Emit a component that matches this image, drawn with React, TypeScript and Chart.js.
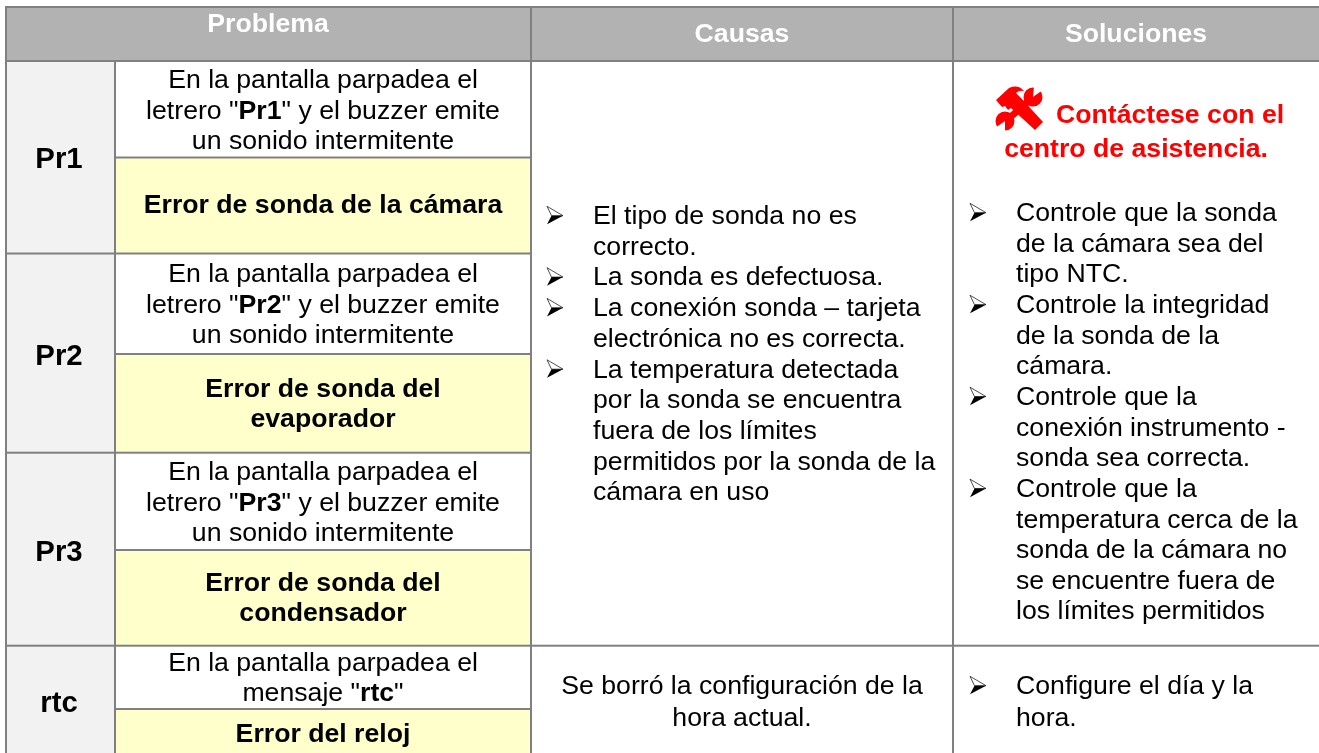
import React, { useEffect, useRef } from "react";
import { Chart, registerables } from "chart.js";

Chart.register(...registerables);

// ---------- content ----------
const headers = ["Problema", "Causas", "Soluciones"];
const codes = ["Pr1", "Pr2", "Pr3", "rtc"];
const symptoms = [
  ["En la pantalla parpadea el", 'letrero "**Pr1**" y el buzzer emite', "un sonido intermitente"],
  ["En la pantalla parpadea el", 'letrero "**Pr2**" y el buzzer emite', "un sonido intermitente"],
  ["En la pantalla parpadea el", 'letrero "**Pr3**" y el buzzer emite', "un sonido intermitente"],
  ["En la pantalla parpadea el", 'mensaje "**rtc**"'],
];
const errors = [
  ["Error de sonda de la cámara"],
  ["Error de sonda del", "evaporador"],
  ["Error de sonda del", "condensador"],
  ["Error del reloj"],
];
const causeBullets = [
  ["El tipo de sonda no es", "correcto."],
  ["La sonda es defectuosa."],
  ["La conexión sonda – tarjeta", "electrónica no es correcta."],
  ["La temperatura detectada", "por la sonda se encuentra", "fuera de los límites", "permitidos por la sonda de la", "cámara en uso"],
];
const contactLines = ["Contáctese con el", "centro de asistencia."];
const solutionBullets = [
  ["Controle que la sonda", "de la cámara sea del", "tipo NTC."],
  ["Controle la integridad", "de la sonda de la", "cámara."],
  ["Controle que la", "conexión instrumento -", "sonda sea correcta."],
  ["Controle que la", "temperatura cerca de la", "sonda de la cámara no", "se encuentre fuera de", "los límites permitidos"],
];
const rtcCause = ["Se borró la configuración de la", "hora actual."];
const rtcSolution = ["Configure el día y la", "hora."];

// ---------- table geometry, in scale units ----------
const colEdges = [6, 115, 531, 953, 1319];
const rowEdges = [7, 61, 253.5, 452.7, 645.7, 753];
const rowSplits = [157.5, 354, 550, 709];

const FONT = '"Liberation Sans", Arial, sans-serif';
const TEXT_SIZE = 26.67;
const PITCH = 30.7;

function richLine(ctx: CanvasRenderingContext2D, s: string, cx: number, base: number, size: number) {
  const parts = s.split("**");
  let total = 0;
  parts.forEach((p, i) => {
    ctx.font = `${i % 2 ? "bold " : ""}${size}px ${FONT}`;
    total += ctx.measureText(p).width;
  });
  let x = cx - total / 2;
  ctx.textAlign = "left";
  parts.forEach((p, i) => {
    ctx.font = `${i % 2 ? "bold " : ""}${size}px ${FONT}`;
    ctx.fillText(p, x, base);
    x += ctx.measureText(p).width;
  });
}

function drawBullet(ctx: CanvasRenderingContext2D, left: number, base: number) {
  ctx.save();
  ctx.translate(left, base - 17.7);
  // upper half: white with outline
  ctx.fillStyle = "#ffffff";
  ctx.strokeStyle = "#222222";
  ctx.lineWidth = 0.8;
  ctx.beginPath();
  ctx.moveTo(0, 0);
  ctx.lineTo(16, 9.4);
  ctx.lineTo(4.5, 9.4);
  ctx.closePath();
  ctx.fill();
  ctx.stroke();
  // lower half: solid
  ctx.fillStyle = "#000000";
  ctx.beginPath();
  ctx.moveTo(16, 9.4);
  ctx.lineTo(0, 18);
  ctx.lineTo(4.5, 9.4);
  ctx.closePath();
  ctx.fill();
  ctx.restore();
}

function drawIcon(ctx: CanvasRenderingContext2D, ox: number, oy: number) {
  ctx.save();
  ctx.translate(ox, oy);
  ctx.fillStyle = "#ff0000";
  ctx.strokeStyle = "#ff0000";
  // wrench handle and jaws
  ctx.lineWidth = 7;
  ctx.beginPath();
  ctx.moveTo(38, 10);
  ctx.lineTo(9, 36);
  ctx.stroke();
  ctx.beginPath();
  ctx.arc(37, 11, 9.5, 0, Math.PI * 2);
  ctx.arc(9, 35, 9.5, 0, Math.PI * 2);
  ctx.fill();
  ctx.fillStyle = "#ffffff";
  ctx.beginPath();
  ctx.moveTo(37, 11);
  ctx.lineTo(38, 0);
  ctx.lineTo(48, 3);
  ctx.closePath();
  ctx.moveTo(9, 35);
  ctx.lineTo(9, 46);
  ctx.lineTo(-1, 42);
  ctx.closePath();
  ctx.fill();
  // hammer
  ctx.fillStyle = "#ff0000";
  ctx.beginPath();
  ctx.moveTo(0, 14);
  ctx.lineTo(13, 2);
  ctx.quadraticCurveTo(22, -2, 28, 5);
  ctx.quadraticCurveTo(23, 4, 20, 7);
  ctx.lineTo(25, 12);
  ctx.lineTo(47, 36);
  ctx.lineTo(39, 44);
  ctx.lineTo(15, 22);
  ctx.lineTo(12, 24);
  ctx.lineTo(9, 20);
  ctx.lineTo(6, 21);
  ctx.closePath();
  ctx.fill();
  ctx.restore();
}

const tablePlugin = {
  id: "tablePlugin",
  afterDatasetsDraw(chart: any) {
    const ctx: CanvasRenderingContext2D = chart.ctx;
    const X = (v: number) => chart.scales.x.getPixelForValue(v);
    const Y = (v: number) => chart.scales.y.getPixelForValue(v);
    const fillCell = (x0: number, x1: number, y0: number, y1: number, c: string) => {
      ctx.fillStyle = c;
      ctx.fillRect(X(x0), Y(y0), X(x1) - X(x0), Y(y1) - Y(y0));
    };
    const [c0, c1, c2, c3, c4] = colEdges;
    const [r0, r1] = rowEdges;

    ctx.save();
    fillCell(c0, c4, r0, r1, "#b2b2b2");
    fillCell(c0, c1, r1, 753, "#f2f2f2");
    fillCell(c1, c4, r1, 753, "#ffffff");
    rowSplits.forEach((s, i) => fillCell(c1, c2, s, rowEdges[i + 2], "#ffffcc"));

    // rules
    ctx.fillStyle = "#808080";
    const h = (x0: number, x1: number, y: number) => ctx.fillRect(X(x0), Y(y) - 1, X(x1) - X(x0), 2);
    const v = (x: number, y0: number, y1: number) => ctx.fillRect(X(x) - 1, Y(y0), 2, Y(y1) - Y(y0));
    rowEdges.slice(0, 2).forEach((y) => h(c0 - 1, c4, y));
    [rowEdges[2], rowEdges[3]].forEach((y) => h(c0 - 1, c2, y));
    h(c0 - 1, c4, rowEdges[4]);
    rowSplits.forEach((y) => h(c1, c2, y));
    v(c0, r0 - 1, 753);
    v(c1, r1, 753);
    v(c2, r0 - 1, 753);
    v(c3, r0 - 1, 753);

    ctx.textBaseline = "alphabetic";
    // headers
    ctx.fillStyle = "#ffffff";
    ctx.font = `bold ${TEXT_SIZE}px ${FONT}`;
    ctx.textAlign = "center";
    ctx.fillText(headers[0], X(268), Y(32));
    ctx.fillText(headers[1], X(742), Y(42));
    ctx.fillText(headers[2], X(1136), Y(42));

    // first columns
    ctx.fillStyle = "#000000";
    const codeY = [168, 365, 561, 711.5];
    codes.forEach((c, i) => {
      ctx.font = `bold 29.33px ${FONT}`;
      ctx.textAlign = "center";
      ctx.fillText(c, X(59), Y(codeY[i]));
    });
    const symY = [88, 282, 480, 670.7];
    const cMid = (c1 + c2) / 2;
    symptoms.forEach((lines, i) =>
      lines.forEach((l, j) => richLine(ctx, l, X(cMid), Y(symY[i] + j * PITCH), TEXT_SIZE))
    );
    const errY = [213, 396.7, 590.7, 742];
    errors.forEach((lines, i) =>
      lines.forEach((l, j) => richLine(ctx, `**${l}**`, X(cMid), Y(errY[i] + j * PITCH), TEXT_SIZE))
    );

    const bulleted = (groups: string[][], bx: number, tx: number, start: number, pitch: number) => {
      let y = start;
      groups.forEach((g) => {
        ctx.textAlign = "left";
        drawBullet(ctx, X(bx), Y(y));
        ctx.fillStyle = "#000000";
        ctx.font = `${TEXT_SIZE}px ${FONT}`;
        g.forEach((l) => {
          ctx.fillText(l, X(tx), Y(y));
          y += pitch;
        });
      });
    };

    // causes
    bulleted(causeBullets, 547, 593, 224, PITCH);
    rtcCause.forEach((l, j) => richLine(ctx, l, X((c2 + c3) / 2), Y(694 + j * 32), TEXT_SIZE));

    // solutions
    drawIcon(ctx, X(996), Y(86));
    ctx.fillStyle = "#ff0000";
    ctx.font = `bold ${TEXT_SIZE}px ${FONT}`;
    ctx.textAlign = "left";
    ctx.fillText(contactLines[0], X(1056), Y(123));
    ctx.textAlign = "center";
    ctx.fillText(contactLines[1], X(1136), Y(157));
    ctx.fillStyle = "#000000";
    bulleted(solutionBullets, 970, 1016, 221, 30.65);
    bulleted([rtcSolution], 970, 1016, 694, 32);
    ctx.restore();
  },
};

export default function App() {
  const ref = useRef<HTMLCanvasElement>(null);
  useEffect(() => {
    document.body.style.margin = "0";
    document.body.style.background = "#ffffff";
    const chart = new Chart(ref.current!, {
      type: "scatter",
      data: {
        datasets: [
          {
            label: "cells",
            data: codes.map((_, i) => ({ x: colEdges[0], y: rowEdges[i + 1] })),
            pointRadius: 0,
          },
        ],
      },
      options: {
        animation: false,
        responsive: false,
        layout: { padding: 0 },
        plugins: { legend: { display: false }, tooltip: { enabled: false } },
        scales: {
          x: { type: "linear", min: 0, max: 1319, display: false },
          y: { type: "linear", min: 0, max: 753, reverse: true, display: false },
        },
      },
      plugins: [tablePlugin],
    });
    return () => chart.destroy();
  }, []);
  return <canvas ref={ref} width={1319} height={753} style={{ display: "block", width: 1319, height: 753 }} />;
}
